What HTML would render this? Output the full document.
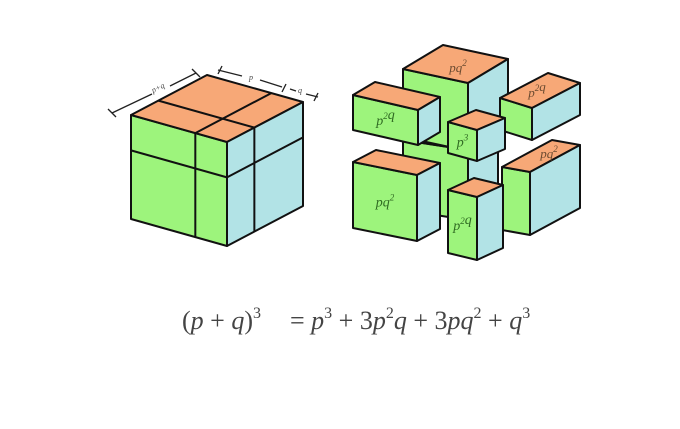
<!DOCTYPE html>
<html><head><meta charset="utf-8"><style>
html,body{margin:0;padding:0;background:#fff;}
svg{display:block;}
text{font-family:"Liberation Serif",serif;font-style:italic;}
</style></head><body>
<svg id="fig" width="680" height="429" viewBox="0 0 680 429" xmlns="http://www.w3.org/2000/svg">
<g id="left"></g>
<g id="right"></g>
<g stroke="#222" stroke-width="1.3" fill="none">
<line x1="112" y1="113" x2="152" y2="94"/><line x1="170" y1="86" x2="196" y2="73"/>
<line x1="108" y1="109" x2="116" y2="117"/><line x1="192" y1="69" x2="200" y2="77"/>
<line x1="218" y1="70" x2="242" y2="76"/><line x1="260" y1="80" x2="282" y2="87"/>
<line x1="290" y1="89" x2="296" y2="91"/><line x1="306" y1="94" x2="318" y2="97"/>
<line x1="222" y1="66" x2="218" y2="74"/><line x1="286" y1="84" x2="282" y2="92"/><line x1="318" y1="93" x2="314" y2="101"/>
</g>
<text x="153" y="93" font-size="8" fill="#444" transform="rotate(-26 153 93)">p+q</text>
<text x="249" y="80" font-size="8" fill="#444">p</text>
<text x="298" y="93" font-size="8" fill="#444">q</text>
<text x="182" y="329" font-size="26" fill="#444" style="font-style:normal">(<tspan font-style="italic">p</tspan> + <tspan font-style="italic">q</tspan>)<tspan dy="-11" font-size="16">3</tspan></text>
<text x="290" y="329" font-size="26" fill="#444" style="font-style:normal">= <tspan font-style="italic">p</tspan><tspan dy="-11" font-size="16">3</tspan><tspan dy="11"> + 3</tspan><tspan font-style="italic">p</tspan><tspan dy="-11" font-size="16">2</tspan><tspan dy="11" font-style="italic">q</tspan> + 3<tspan font-style="italic">pq</tspan><tspan dy="-11" font-size="16">2</tspan><tspan dy="11"> + </tspan><tspan font-style="italic">q</tspan><tspan dy="-11" font-size="16">3</tspan></text>
</svg>
<script>
const OR="#f7a877",GR="#9df47c",BL="#b2e3e6";
const NS="http://www.w3.org/2000/svg";
function poly(g,pts,fill,name){const p=document.createElementNS(NS,'polygon');
p.setAttribute('points',pts.map(a=>a.join(',')).join(' '));
p.setAttribute('fill',fill);p.setAttribute('stroke','#111');p.setAttribute('stroke-width','2');p.setAttribute('stroke-linejoin','round');


g.appendChild(p);}
function add(a,b){return [a[0]+b[0],a[1]+b[1]];}
function box(g,o,ex,ey,ez,name,label,lsize){
const tr=add(o,ex),bl=add(o,ey),br=add(tr,ey);
poly(g,[o,tr,br,bl],GR,name+'-front');
poly(g,[o,add(o,ez),add(tr,ez),tr],OR,name+'-top');
poly(g,[tr,add(tr,ez),add(br,ez),br],BL,name+'-side');
if(label){const t=document.createElementNS(NS,'text');
const cx=o[0]+ex[0]/2+ey[0]/2,cy=o[1]+ex[1]/2+ey[1]/2;
t.setAttribute('x',cx);t.setAttribute('y',cy+5);t.setAttribute('text-anchor','middle');
t.setAttribute('font-size',lsize||14);t.setAttribute('fill','#2f6a22');
t.innerHTML=label;


g.appendChild(t);}}
const L=document.getElementById('left');
box(L,[131,115],[96,27],[0,104],[76,-40],'cube');
const ln=(a,b)=>{const l=document.createElementNS(NS,'line');l.setAttribute('x1',a[0]);l.setAttribute('y1',a[1]);l.setAttribute('x2',b[0]);l.setAttribute('y2',b[1]);l.setAttribute('stroke','#111');l.setAttribute('stroke-width','2');


L.appendChild(l);};
const fx=0.67,fy=0.34,fz=0.36;
ln([131+96*fx,115+27*fx],[131+96*fx,219+27*fx]);
ln([131,115+104*fy],[227,142+104*fy]);
ln([227+76*fz,142-40*fz],[227+76*fz,246-40*fz]);
ln([227,142+104*fy],[303,102+104*fy]);
ln([131+96*fx,115+27*fx],[207+96*fx,75+27*fx]);
ln([131+76*fz,115-40*fz],[227+76*fz,142-40*fz]);
const R=document.getElementById('right');
const sup=s=>'<tspan dy="-6" font-size="9">'+s+'</tspan><tspan dy="6"></tspan>';
box(R,[403,140],[65,10],[0,70],[30,-16],'box-q3','q'+sup('3'));
box(R,[403,69],[65,14],[0,68],[40,-24],'box-pq2-back','');
box(R,[353,95],[65,15],[0,35],[22,-13],'box-p2q-left','p'+sup('2')+'q');
box(R,[500,98],[32,10],[0,32],[48,-25],'box-p2q-right','');
box(R,[448,122],[29,8],[0,31],[28,-12],'box-p3','p'+sup('3'));
box(R,[353,162],[64,13],[0,66],[23,-12],'box-pq2-bottom','pq'+sup('2'));
box(R,[502,167],[28,5],[0,63],[50,-27],'box-pq2-right','');
box(R,[448,190],[29,7],[0,63],[26,-12],'box-p2q-bottom','p'+sup('2')+'q');
function tl(x,y,s,n){const t=document.createElementNS(NS,'text');t.setAttribute('x',x);t.setAttribute('y',y);t.setAttribute('font-size',13);t.setAttribute('fill','#6a4a30');t.setAttribute('text-anchor','middle');t.innerHTML=s;


R.appendChild(t);}
tl(458,72,'pq'+sup('2'),'label-pq2-back');
tl(537,97,'p'+sup('2')+'q','label-p2q-right');
tl(549,158,'pq'+sup('2'),'label-pq2-right');
</script>
</body></html>
